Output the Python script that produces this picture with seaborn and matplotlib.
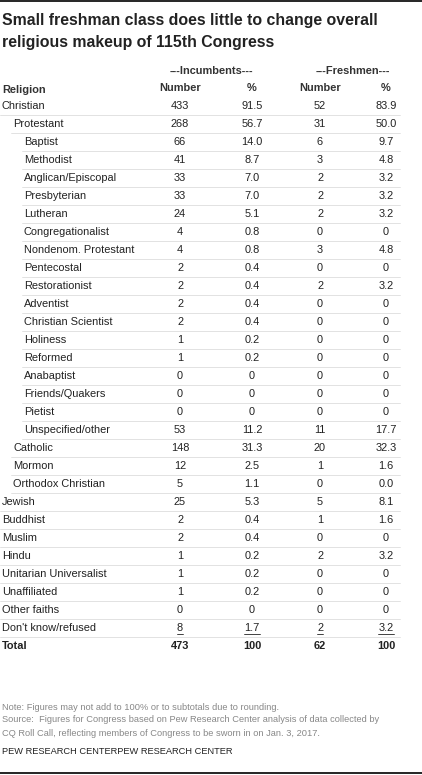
import matplotlib
matplotlib.use("Agg")
import matplotlib.pyplot as plt
import seaborn as sns

sns.set_theme(style="white")
plt.rcParams['font.family'] = ['Liberation Sans', 'DejaVu Sans']

religions = ["Christian", "Protestant", "Baptist", "Methodist", "Anglican/Episcopal", "Presbyterian",
             "Lutheran", "Congregationalist", "Nondenom. Protestant", "Pentecostal", "Restorationist",
             "Adventist", "Christian Scientist", "Holiness", "Reformed", "Anabaptist", "Friends/Quakers",
             "Pietist", "Unspecified/other", "Catholic", "Mormon", "Orthodox Christian", "Jewish",
             "Buddhist", "Muslim", "Hindu", "Unitarian Universalist", "Unaffiliated", "Other faiths",
             "Don't know/refused", "Total"]
levels = [0, 1, 2, 2, 2, 2, 2, 2, 2, 2, 2, 2, 2, 2, 2, 2, 2, 2, 2, 1, 1, 1, 0, 0, 0, 0, 0, 0, 0, 0, 0]
inc_num = ["433", "268", "66", "41", "33", "33", "24", "4", "4", "2", "2", "2", "2", "1", "1", "0", "0",
           "0", "53", "148", "12", "5", "25", "2", "2", "1", "1", "1", "0", "8", "473"]
inc_pct = ["91.5", "56.7", "14.0", "8.7", "7.0", "7.0", "5.1", "0.8", "0.8", "0.4", "0.4", "0.4", "0.4",
           "0.2", "0.2", "0", "0", "0", "11.2", "31.3", "2.5", "1.1", "5.3", "0.4", "0.4", "0.2", "0.2",
           "0.2", "0", "1.7", "100"]
fr_num = ["52", "31", "6", "3", "2", "2", "2", "0", "3", "0", "2", "0", "0", "0", "0", "0", "0", "0",
          "11", "20", "1", "0", "5", "1", "0", "2", "0", "0", "0", "2", "62"]
fr_pct = ["83.9", "50.0", "9.7", "4.8", "3.2", "3.2", "3.2", "0", "4.8", "0", "3.2", "0", "0", "0", "0",
          "0", "0", "0", "17.7", "32.3", "1.6", "0.0", "8.1", "1.6", "0", "3.2", "0", "0", "0", "3.2", "100"]

fig = plt.figure(figsize=(4.22, 7.75), dpi=100)
ax = fig.add_axes([0, 0, 1, 1])
ax.set_xlim(0, 422)
ax.set_ylim(775, 0)
ax.axis("off")

fs = 7.9
ax.plot([0, 422], [1, 1], color="black", lw=1.2)
ax.plot([0, 422], [773, 773], color="black", lw=1.2)
ax.text(2, 20, "Small freshman class does little to change overall", fontsize=11.4,
        fontweight="bold", va="center", color="#222222")
ax.text(2, 42, "religious makeup of 115th Congress", fontsize=11.4,
        fontweight="bold", va="center", color="#222222")

cols = [180, 252, 320, 386]
ax.text(211, 71, "---Incumbents---", fontsize=fs, fontweight="bold", ha="center", va="center", color="#333")
ax.text(353, 71, "---Freshmen---", fontsize=fs, fontweight="bold", ha="center", va="center", color="#333")
for x, h in zip(cols, ["Number", "%", "Number", "%"]):
    ax.text(x, 88, h, fontsize=fs, fontweight="bold", ha="center", va="center", color="#333")
ax.text(2, 90, "Religion", fontsize=fs, fontweight="bold", va="center", color="#333")

y0, dy = 106, 18.0
indent = [2, 13, 24]
n = len(religions)
for i in range(n):
    y = y0 + i * dy
    total = religions[i] == "Total"
    w = "bold" if total else "normal"
    ax.text(indent[levels[i]], y, religions[i], fontsize=fs, fontweight=w, va="center", color="#222")
    for x, v in zip(cols, [inc_num[i], inc_pct[i], fr_num[i], fr_pct[i]]):
        ax.text(x, y, v, fontsize=fs, fontweight=w, ha="center", va="center", color="#222")
        if religions[i] == "Don't know/refused":
            hw = 2.8 * len(v)
            ax.plot([x - hw, x + hw], [y + 6, y + 6], color="#222", lw=0.6)
    if i < n - 1:
        ax.plot([indent[levels[i]] - 2 if levels[i] else 0, 400], [y + 9, y + 9], color="#dddddd", lw=0.6)

ax.text(2, 707, "Note: Figures may not add to 100% or to subtotals due to rounding.",
        fontsize=6.7, va="center", color="#888888")
ax.text(2, 720, "Source:  Figures for Congress based on Pew Research Center analysis of data collected by",
        fontsize=6.7, va="center", color="#888888")
ax.text(2, 733, "CQ Roll Call, reflecting members of Congress to be sworn in on Jan. 3, 2017.",
        fontsize=6.7, va="center", color="#888888")
ax.text(2, 752, "PEW RESEARCH CENTERPEW RESEARCH CENTER", fontsize=6.7, va="center", color="#222")

fig.savefig("out.png", dpi=100)
